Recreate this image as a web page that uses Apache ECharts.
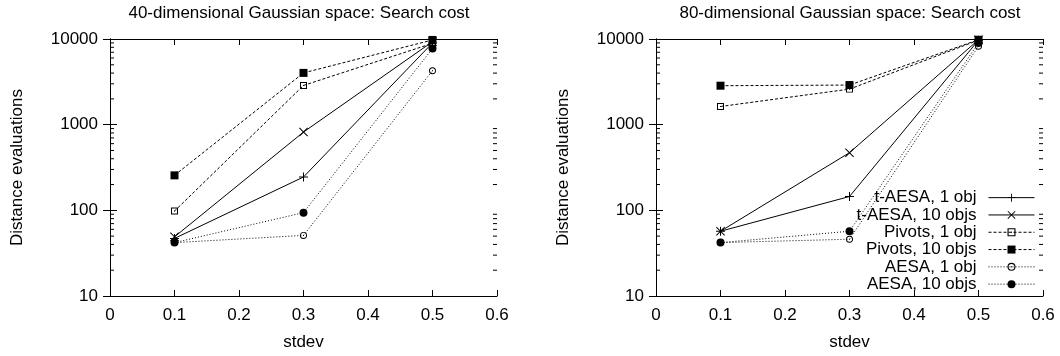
<!DOCTYPE html>
<html>
<head>
<meta charset="utf-8">
<script src="https://cdn.jsdelivr.net/npm/echarts@6/dist/echarts.min.js"></script>
<style>
html,body{margin:0;padding:0;background:#fff;}
#chart{width:1060px;height:356px;}
</style>
</head>
<body>
<div id="chart"></div>
<script>
// ---- data ----
const stdev = [0.1, 0.3, 0.5];
const seriesNames = ['t-AESA, 1 obj', 't-AESA, 10 objs', 'Pivots, 1 obj', 'Pivots, 10 objs', 'AESA, 1 obj', 'AESA, 10 objs'];
const titles = ['40-dimensional Gaussian space: Search cost', '80-dimensional Gaussian space: Search cost'];

// 40-dimensional
const d40_tAesa1  = [47, 245, 9000];
const d40_tAesa10 = [49, 820, 9300];
const d40_piv1    = [98, 2870, 8900];
const d40_piv10   = [256, 4020, 9750];
const d40_aesa1   = [42, 51, 4270];
const d40_aesa10  = [42, 94, 7730];

// 80-dimensional
const d80_tAesa1  = [57, 145, 9700];
const d80_tAesa10 = [57, 471, 9800];
const d80_piv1    = [1630, 2600, 9700];
const d80_piv10   = [2850, 2900, 9800];
const d80_aesa1   = [42, 46, 8240];
const d80_aesa10  = [42, 57, 9000];

const xTicks = [0, 0.1, 0.2, 0.3, 0.4, 0.5, 0.6];
const yTicks = [10, 100, 1000, 10000];
const yMinorTicks = [20,30,40,50,60,70,80,90,200,300,400,500,600,700,800,900,2000,3000,4000,5000,6000,7000,8000,9000];

// ---- styling ----
const FONT = '"Liberation Sans", Arial, Helvetica, sans-serif';
const FS = 17;
const plusPath = 'path://M4,0H5V4H9V5H5V9H4V5H0V4H4Z';
const crossPath = 'path://M0,0.7L0.7,0L4.5,3.8L8.3,0L9,0.7L5.2,4.5L9,8.3L8.3,9L4.5,5.2L0.7,9L0,8.3L3.8,4.5Z';
const openSquarePath = 'path://M0,0H10V10H0ZM1.4,1.4V8.6H8.6V1.4ZM4.3,4.3H5.7V5.7H4.3Z';
const openCirclePath = 'path://M5,0A5,5 0 1,1 4.99,0ZM5,1.4A3.6,3.6 0 1,0 5.01,1.4ZM5,4.2A0.8,0.8 0 1,1 4.99,4.2Z';
const styles = [
  {symbol: plusPath, size: 9, dash: 'solid'},
  {symbol: crossPath, size: 9, dash: 'solid'},
  {symbol: openSquarePath, size: 7, dash: [3, 2]},
  {symbol: 'rect', size: 8, dash: [3, 2]},
  {symbol: openCirclePath, size: 7, dash: [1, 2]},
  {symbol: 'circle', size: 8, dash: [1, 2]}
];

const grids = [
  {left: 110, right: 563, top: 39, bottom: 57, show: false},
  {left: 656, right: 17, top: 39, bottom: 57, show: false}
];
const plotData = [
  [d40_tAesa1, d40_tAesa10, d40_piv1, d40_piv10, d40_aesa1, d40_aesa10],
  [d80_tAesa1, d80_tAesa10, d80_piv1, d80_piv10, d80_aesa1, d80_aesa10]
];

const axisLine = {show: true, lineStyle: {color: '#000', width: 1}};
const xAxes = [], yAxes = [], series = [];
grids.forEach((g, gi) => {
  xAxes.push({
    gridIndex: gi, type: 'value', position: 'bottom',
    min: xTicks[0], max: xTicks[xTicks.length - 1], interval: 0.1,
    name: 'stdev', nameLocation: 'middle', nameGap: 38,
    nameTextStyle: {fontFamily: FONT, fontSize: FS, color: '#000'},
    axisLine: axisLine,
    axisTick: {show: true, inside: true, length: 6, lineStyle: {color: '#000'}},
    axisLabel: {fontFamily: FONT, fontSize: FS, color: '#000', margin: 11,
      formatter: v => { const i = xTicks.findIndex(t => Math.abs(t - v) < 1e-9); return i >= 0 ? String(xTicks[i]) : ''; }},
    splitLine: {show: false}
  });
  xAxes.push({
    gridIndex: gi, type: 'value', position: 'top',
    min: xTicks[0], max: xTicks[xTicks.length - 1], interval: 0.1,
    axisLine: axisLine,
    axisTick: {show: true, inside: true, length: 6, lineStyle: {color: '#000'}},
    axisLabel: {show: false}, splitLine: {show: false}
  });
  yAxes.push({
    gridIndex: gi, type: 'log', logBase: 10, position: 'left',
    min: yTicks[0], max: yTicks[yTicks.length - 1],
    name: 'Distance evaluations', nameLocation: 'middle', nameGap: 84,
    nameTextStyle: {fontFamily: FONT, fontSize: FS, color: '#000'},
    axisLine: axisLine,
    axisTick: {show: true, inside: true, length: 7, lineStyle: {color: '#000'}},
    axisLabel: {fontFamily: FONT, fontSize: FS, color: '#000', margin: 12,
      formatter: v => { const i = yTicks.findIndex(t => Math.abs(t - v) / t < 1e-6); return i >= 0 ? String(yTicks[i]) : ''; }},
    splitLine: {show: false}
  });
  yAxes.push({
    gridIndex: gi, type: 'log', logBase: 10, position: 'right',
    min: yTicks[0], max: yTicks[yTicks.length - 1],
    axisLine: axisLine,
    axisTick: {show: true, inside: true, length: 7, lineStyle: {color: '#000'}},
    axisLabel: {show: false}, splitLine: {show: false}
  });
  const xi = gi * 2, yi = gi * 2;
  plotData[gi].forEach((vals, si) => {
    const st = styles[si];
    series.push({
      name: seriesNames[si], type: 'line',
      xAxisIndex: xi, yAxisIndex: yi,
      data: stdev.map((x, k) => [x, vals[k]]),
      symbol: st.symbol, symbolSize: st.size, showAllSymbols: true,
      lineStyle: {color: '#000', width: 1, type: st.dash},
      itemStyle: {color: '#000', borderWidth: 0},
      emphasis: {disabled: true},
      animation: false, z: 3
    });
  });
  // minor ticks on log y axes (both sides), positioned through axis scales
  series.push({
    type: 'custom', xAxisIndex: xi, yAxisIndex: yi, silent: true, animation: false,
    data: yMinorTicks.map(v => [xTicks[0], v]),
    renderItem: (params, api) => {
      const v = api.value(1);
      const a = api.coord([xTicks[0], v]);
      const b = api.coord([xTicks[xTicks.length - 1], v]);
      return {type: 'group', children: [
        {type: 'line', shape: {x1: a[0], y1: a[1], x2: a[0] + 4, y2: a[1]}, style: {stroke: '#000', lineWidth: 1}},
        {type: 'line', shape: {x1: b[0], y1: b[1], x2: b[0] - 4, y2: b[1]}, style: {stroke: '#000', lineWidth: 1}}
      ]};
    }
  });
});

const chart = echarts.init(document.getElementById('chart'), null, {renderer: 'canvas'});
chart.setOption({
  animation: false,
  backgroundColor: '#fff',
  title: [
    {text: titles[0], left: 299, top: 5, textAlign: 'center', padding: 0,
     textStyle: {fontFamily: FONT, fontSize: FS, fontWeight: 'normal', color: '#000'}},
    {text: titles[1], left: 850, top: 5, textAlign: 'center', padding: 0,
     textStyle: {fontFamily: FONT, fontSize: FS, fontWeight: 'normal', color: '#000'}}
  ],
  legend: {
    data: seriesNames, orient: 'vertical', align: 'right',
    right: 25, top: 189, padding: 0,
    itemWidth: 46, itemHeight: 10, itemGap: 0, selectedMode: false,
    lineStyle: {width: 1},
    textStyle: {fontFamily: FONT, fontSize: FS, color: '#000', lineHeight: 17.3, padding: [0, 7, 0, 0]}
  },
  grid: grids,
  xAxis: xAxes,
  yAxis: yAxes,
  series: series
});
</script>
</body>
</html>
